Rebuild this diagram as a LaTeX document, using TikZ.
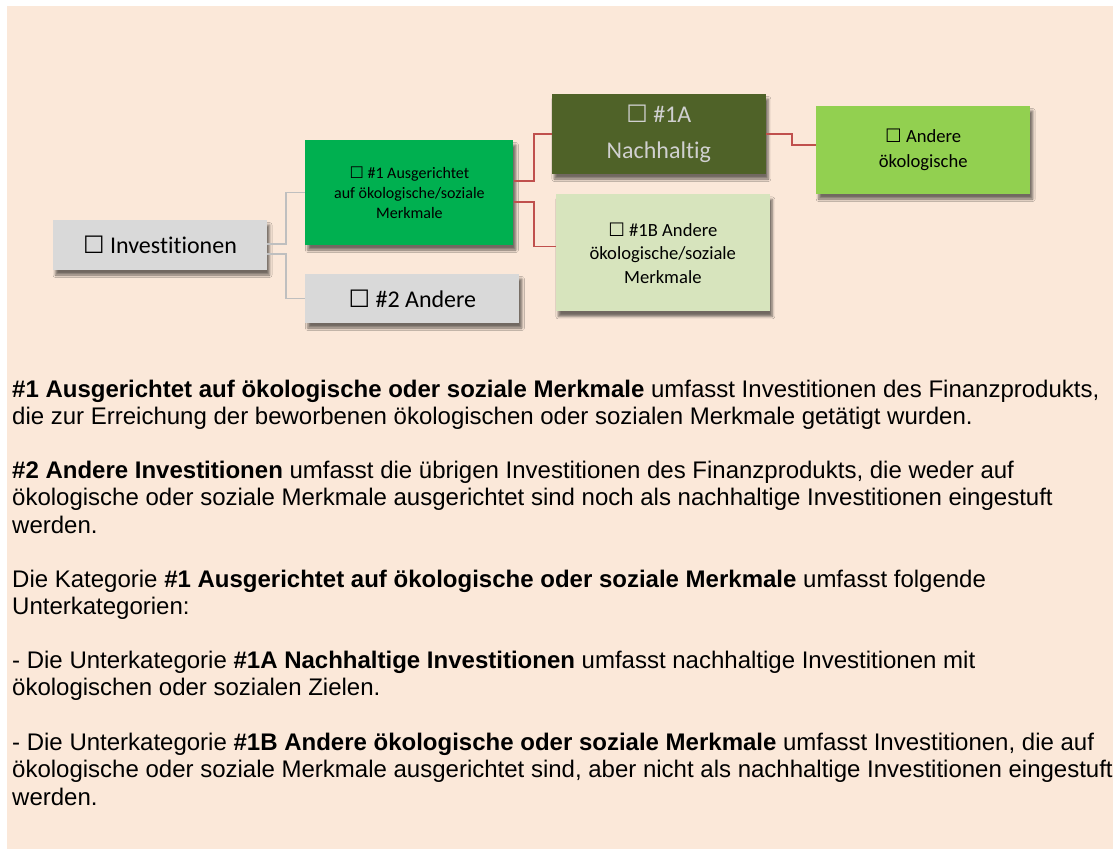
\documentclass[tikz,border=0pt]{standalone}
\usepackage{fontspec}
\setmainfont{Liberation Sans}
\newfontfamily\calibri[Ligatures=NoCommon]{Carlito}
\newfontfamily\symb{DejaVu Sans}
\usepackage{tikz}
\usetikzlibrary{positioning, shadows.blur}
\definecolor{cpfirsich}{HTML}{FBE8D9}
\definecolor{cgrau}{HTML}{D9D9D9}
\definecolor{cgruen}{HTML}{00B050}
\definecolor{coliv}{HTML}{4F6228}
\definecolor{chellgruen}{HTML}{D7E4BD}
\definecolor{climette}{HTML}{92D050}
\definecolor{clinie}{HTML}{BFBFBF}
\definecolor{crot}{HTML}{C0504D}
\definecolor{ctextgrau}{HTML}{D0D0D0}
\newcommand{\ankreuz}{{\symb ☐}}
\tikzset{
  feld/.style={rectangle, fill=#1, inner sep=0pt, align=center, minimum width=214pt,
               blur shadow={shadow xshift=2.5pt, shadow yshift=-5pt, shadow blur radius=2.5pt, shadow opacity=55}},
  gross/.style={font=\calibri\fontsize{24}{30.5}\selectfont},
  mittel/.style={font=\calibri\fontsize{18.6}{23.5}\selectfont},
  klein/.style={font=\calibri\fontsize{16}{20}\selectfont},
  grauweg/.style={draw=clinie, line width=1.8pt},
  rotweg/.style={draw=crot, line width=1.8pt},
  absatz/.style={anchor=base west, align=left, inner sep=0pt, font=\fontsize{24}{27.5}\selectfont},
}

\begin{document}
\begin{tikzpicture}[x=1pt, y=-1pt, node distance=38pt]
        \useasboundingbox (0,0) rectangle (1113,849);
        \fill[cpfirsich] (7,6) rectangle (1113,849);
        \node[feld=cgrau, gross, minimum height=50pt] (inv) at (160,245) {\ankreuz{} Investitionen};
        \node[feld=cgruen, klein, minimum width=208pt, minimum height=105pt, right=38pt of inv, yshift=52.5pt] (ausg) {\ankreuz{} \#1 Ausgerichtet\\ auf ökologische/soziale\\ Merkmale};
        \node[feld=cgrau, gross, minimum height=49pt, right=38pt of inv, yshift=-53.5pt] (zwei) {\ankreuz{} \#2 Andere};
        \node[feld=coliv, gross, text=ctextgrau, minimum height=80pt, right=38pt of ausg, yshift=58.5pt] (nachh) {\ankreuz{} \#1A\\[5pt] Nachhaltig};
        \node[feld=chellgruen, mittel, minimum height=117pt, below=20pt of nachh, xshift=4pt] (andere) {\ankreuz{} \#1B Andere\\ ökologische/soziale\\ Merkmale};
        \node[feld=climette, mittel, minimum height=88pt, right=50pt of nachh, yshift=-16pt] (oeko) {\ankreuz{} Andere\\[2pt] ökologische};
        \draw[grauweg] ([yshift=1pt]inv.east) -- ++(19,0) |- (ausg.west);
        \draw[grauweg] ([yshift=-9pt]inv.east) -- ++(19,0) |- (zwei.west);
        \draw[rotweg] ([yshift=11.5pt]ausg.east) -- ++(20,0) |- (nachh.west);
        \draw[rotweg] ([yshift=-9.5pt]ausg.east) -- ++(20,0) |- ([yshift=6.5pt]andere.west);
        \draw[rotweg] (nachh.east) -- ++(26,0) |- ([yshift=5pt]oeko.west);
        \node[absatz] (p1) at (12,424.5) {\textbf{\#1 Ausgerichtet auf ökologische oder soziale Merkmale} umfasst Investitionen des Finanzprodukts,\\ die zur Erreichung der beworbenen ökologischen oder sozialen Merkmale getätigt wurden.};
        \node[absatz] (p2) at (12,533) {\textbf{\#2 Andere Investitionen} umfasst die übrigen Investitionen des Finanzprodukts, die weder auf\\ ökologische oder soziale Merkmale ausgerichtet sind noch als nachhaltige Investitionen eingestuft\\ werden.};
        \node[absatz] (p3) at (12,614.5) {Die Kategorie \textbf{\#1 Ausgerichtet auf ökologische oder soziale Merkmale} umfasst folgende\\ Unterkategorien:};
        \node[absatz] (p4) at (12,695.5) {- Die Unterkategorie \textbf{\#1A Nachhaltige Investitionen} umfasst nachhaltige Investitionen mit\\ ökologischen oder sozialen Zielen.};
        \node[absatz] (p5) at (12,805) {- Die Unterkategorie \textbf{\#1B Andere ökologische oder soziale Merkmale} umfasst Investitionen, die auf\\ ökologische oder soziale Merkmale ausgerichtet sind, aber nicht als nachhaltige Investitionen eingestuft\\ werden.};
    \end{tikzpicture}
\end{document}
